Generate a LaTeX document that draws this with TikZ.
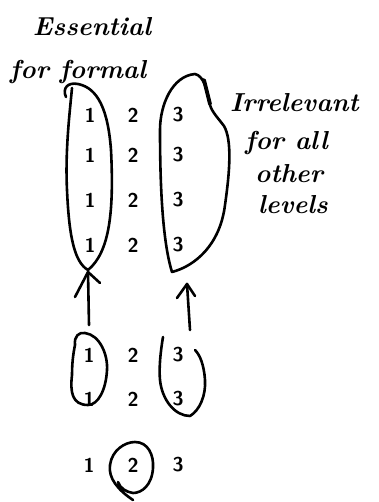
\documentclass[tikz,border=0pt]{standalone}
\begin{document}
\begin{tikzpicture}[x=1pt,y=-1pt,
  ink/.style={line width=2.6pt, line cap=round, line join=round},
  digit/.style={font=\sffamily\bfseries\fontsize{20}{20}\selectfont, inner sep=0pt},
  hand/.style={font=\bfseries\itshape\fontsize{26}{26}\selectfont, inner sep=0pt}]
\useasboundingbox (0,0) rectangle (378,502);
% digits, top block
\foreach \r/\y in {1/115,2/155,3/200,4/245}{
  \node[digit] (a\r) at (90,\y) {1};
  \node[digit] (b\r) at (133,\y) {2};
  \node[digit] (c\r) at (178,\y) {3};
}
% middle block
\foreach \r/\y in {1/355,2/399}{
  \node[digit] (m\r) at (89,\y) {1};
  \node[digit] (n\r) at (133,\y) {2};
  \node[digit] (o\r) at (178,\y) {3};
}
% bottom row
\node[digit] (p1) at (89,465) {1};
\node[digit] (p2) at (133,465) {2};
\node[digit] (p3) at (178,465) {3};
% labels
\node[hand] (ess) at (92,27) {Essential};
\node[hand] (form) at (78,72) {for formal};
\node[hand, anchor=west] (irr) at (230,103) {Irrelevant};
\node[hand, anchor=west] (fall) at (245,143) {for all};
\node[hand, anchor=west] (oth) at (255,174) {other};
\node[hand, anchor=west] (lev) at (258,205) {levels};
% top left loop
\draw[ink] (66,97) .. controls (62,88) and (68,82) .. (78,84)
  .. controls (98,88) and (108,110) .. (111,150)
  .. controls (114,210) and (110,252) .. (88,270)
  .. controls (74,262) and (69,235) .. (67,190)
  .. controls (65,150) and (70,110) .. (72,88);
% top right loop
\draw[ink] (210,105) .. controls (207,90) and (204,76) .. (195,74)
  .. controls (172,76) and (160,105) .. (160,130)
  .. controls (160,180) and (162,240) .. (172,272)
  .. controls (195,266) and (220,245) .. (225,205)
  .. controls (230,170) and (232,140) .. (224,126)
  .. controls (218,118) and (212,112) .. (210,105);
\draw[line width=3.8pt, line cap=round] (204,80) -- (210,104);
% arrows
\coordinate (t1) at (88,272);
\coordinate (s1) at (89,325);
\draw[ink] (s1) -- (t1);
\draw[ink] (75,297) -- (t1) -- (100,283);
\coordinate (t2) at (187,284);
\coordinate (s2) at (190,330);
\draw[ink] (s2) -- (t2);
\draw[ink] (177,298) -- (t2) -- (195,296);
% middle left loop
\draw[ink] (75,345) .. controls (74,336) and (79,332) .. (85,333)
  .. controls (100,335) and (108,355) .. (107,370)
  .. controls (106,390) and (98,405) .. (88,405)
  .. controls (72,405) and (70,392) .. (72,375)
  .. controls (72,360) and (74,350) .. (75,345);
% middle right loop
\draw[ink] (163,337) .. controls (160,355) and (159,370) .. (160,380)
  .. controls (162,400) and (175,416) .. (190,416)
  .. controls (200,410) and (206,395) .. (205,380)
  .. controls (204,365) and (200,355) .. (195,350);
% circle around bottom 2
\draw[ink] (133,500) .. controls (118,490) and (108,478) .. (110,465)
  .. controls (112,450) and (125,442) .. (135,442)
  .. controls (148,442) and (154,455) .. (153,468)
  .. controls (152,485) and (142,493) .. (133,493)
  .. controls (126,492) and (120,488) .. (118,482);
\end{tikzpicture}
\end{document}
